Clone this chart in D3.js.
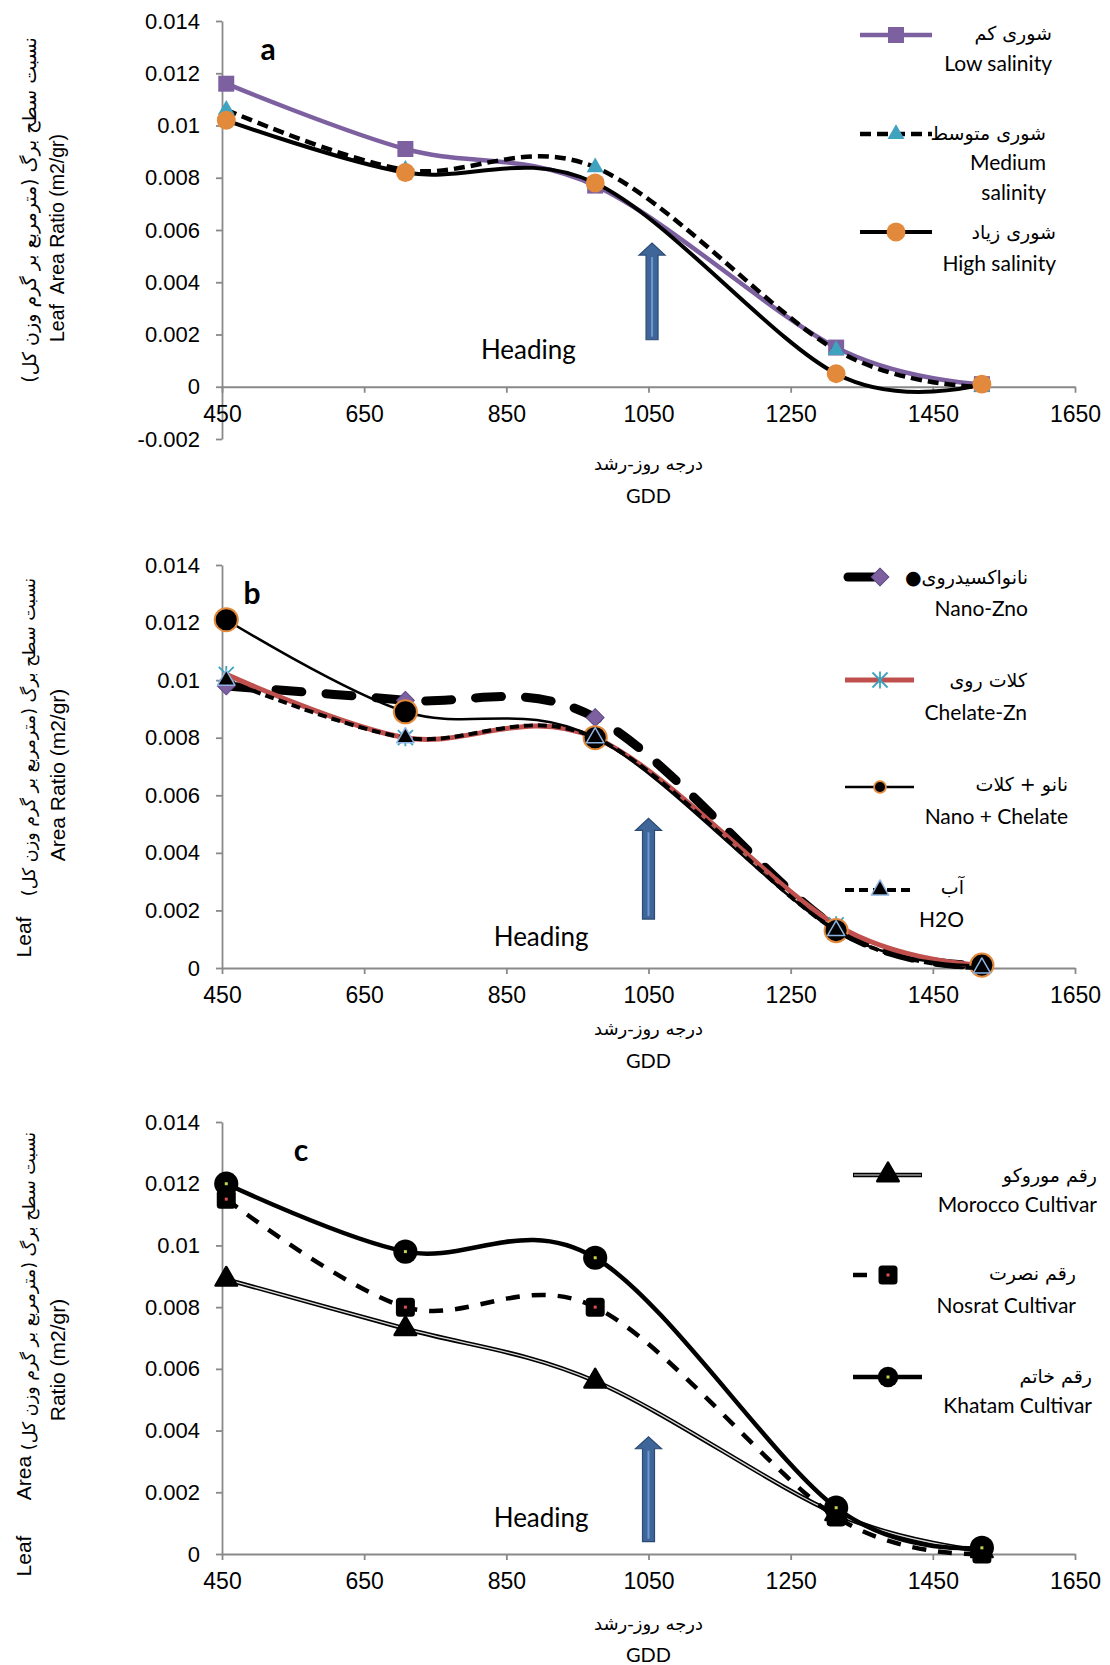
<!DOCTYPE html>
<html>
<head>
<meta charset="utf-8">
<script src="https://cdn.jsdelivr.net/npm/d3@7"></script>
<style>
body { margin: 0; background: #fff; }
</style>
</head>
<body>
<div id="chart"></div>
<script>
// growing degree days of the five samplings
var gdd = [456, 708, 975, 1314, 1519];
var xTicks = [450, 650, 850, 1050, 1250, 1450, 1650];
var yTicksA = [-0.002, 0, 0.002, 0.004, 0.006, 0.008, 0.01, 0.012, 0.014];
var yTicksBC = [0, 0.002, 0.004, 0.006, 0.008, 0.01, 0.012, 0.014];

// a : salinity
var lowSalinity = [0.0116, 0.0091, 0.0077, 0.0015, 0.0001];
var mediumSalinity = [0.0106, 0.0083, 0.0084, 0.0014, 0.0000];
var highSalinity = [0.0102, 0.0082, 0.0078, 0.0005, 0.0001];

// b : zinc
var nanoZno = [0.0098, 0.0093, 0.0087, 0.0014, 0.0001];
var chelateZn = [0.0102, 0.0080, 0.0080, 0.0015, 0.0001];
var nanoChelate = [0.0121, 0.0089, 0.0080, 0.0013, 0.0001];
var h2o = [0.0100, 0.0080, 0.0080, 0.0013, 0.0000];

// c : cultivars
var morocco = [0.0089, 0.0073, 0.0056, 0.0013, 0.0001];
var nosrat = [0.0115, 0.0080, 0.0080, 0.0012, 0.0000];
var khatam = [0.0120, 0.0098, 0.0096, 0.0015, 0.0002];

var faFont = "'DejaVu Sans', sans-serif";
var enFont = "Lato, 'Open Sans', sans-serif";
var numFont = "'Liberation Sans', Arial, sans-serif";
var axisColor = "#898989";

var width = 1110, height = 1665;

var svg = d3.select("#chart").append("svg")
	.attr("width", width)
	.attr("height", height)
	.style("background", "#fff");

var x = d3.scaleLinear().domain([450, 1650]).range([222, 1075]);

var panels = [
	{
		letter: "a", letterPos: [268, 48],
		domain: [-0.002, 0.014], range: [439, 21], yTicks: yTicksA,
		heading: [881, 0.00146], arrow: [1055, 0.0055, 0.0018],
		xTitle: [463, 495],
		yTitles: [
			{t: "نسبت سطح برگ (مترمربع بر گرم وزن کل)", x: 29, y: 210, f: faFont, s: 19},
			{t: "Leaf  Area Ratio (m2/gr)", x: 57, y: 238, f: numFont, s: 19.5}
		],
		series: [
			{v: lowSalinity, stroke: "#7D60A0", w: 4.5, m: {type: "square", size: 256, fill: "#7D60A0"},
				fa: "شوری کم", en: ["Low salinity"], ly: 35, lx: [860, 932], tx: 1052, ty: [33, 62]},
			{v: mediumSalinity, stroke: "#000", w: 4.5, dash: "11,6", m: {type: "triangle", size: 125, fill: "#3FA2BE"},
				fa: "شوری متوسط", en: ["Medium", "salinity"], ly: 134, lx: [860, 932], tx: 1046, ty: [133, 161, 191]},
			{v: highSalinity, stroke: "#000", w: 4, m: {type: "circle", size: 280, fill: "#E2893B"},
				fa: "شوری زیاد", en: ["High salinity"], ly: 232, lx: [860, 932], tx: 1056, ty: [232, 262]}
		]
	},
	{
		letter: "b", letterPos: [252, 592],
		domain: [0, 0.014], range: [968, 565], yTicks: yTicksBC,
		heading: [899, 0.0011], arrow: [1050, 0.0052, 0.0017],
		xTitle: [1028, 1060],
		yTitles: [
			{t: "نسبت سطح برگ (مترمربع بر گرم وزن کل)", x: 29, y: 737, f: faFont, s: 17.5},
			{t: "Area Ratio (m2/gr)", x: 57, y: 775, f: numFont, s: 21},
			{t: "Leaf", x: 23, y: 937, f: numFont, s: 21}
		],
		series: [
			{v: nanoZno, stroke: "#000", w: 9, dash: "26,24", cap: "round", m: {type: "diamond", size: 160, fill: "#7D60A0", stroke: "#5E4785", sw: 1},
				fa: "●نانواکسیدروی", en: ["Nano-Zno"], ly: 577, lx: [848, 885], mx: 880, tx: 1028, ty: [577, 607]},
			{v: chelateZn, stroke: "#C0504D", w: 5, m: {type: "asterisk", size: 7.5, stroke: "#3FA2BE", sw: 1.8},
				fa: "کلات روی", en: ["Chelate-Zn"], ly: 680, lx: [845, 914], mx: 880, tx: 1027, ty: [680, 711]},
			{v: nanoChelate, stroke: "#000", w: 2.5, m: {type: "circle", size: 420, fill: "#000", stroke: "#E2893B", sw: 2},
				lm: {type: "circle", size: 110, fill: "#000", stroke: "#E2893B", sw: 1.8},
				fa: "نانو + کلات", en: ["Nano + Chelate"], ly: 787, lx: [845, 914], mx: 880, tx: 1068, ty: [784, 815]},
			{v: h2o, stroke: "#000", w: 4, dash: "9,5", m: {type: "triangle", size: 130, fill: "#000", stroke: "#8EB4E3", sw: 1.5},
				fa: "آب", en: ["H2O"], ly: 890, lx: [845, 914], mx: 880, tx: 964, ty: [887, 918]}
		]
	},
	{
		letter: "c", letterPos: [301, 1149],
		domain: [0, 0.014], range: [1554, 1122], yTicks: yTicksBC,
		heading: [899, 0.0012], arrow: [1050, 0.0038, 0.0004],
		xTitle: [1623, 1654],
		yTitles: [
			{t: "نسبت سطح برگ (مترمربع بر گرم وزن کل)", x: 29, y: 1291, f: faFont, s: 17.5},
			{t: "Area", x: 23, y: 1478, f: numFont, s: 21},
			{t: "Ratio (m2/gr)", x: 57, y: 1360, f: numFont, s: 21},
			{t: "Leaf", x: 23, y: 1556, f: numFont, s: 21}
		],
		series: [
			{v: morocco, stroke: "#000", w: 4.5, inner: "#d8d8d8", m: {type: "triangle", size: 200, fill: "#000", stroke: "#000", sw: 2.5},
				fa: "رقم موروکو", en: ["Morocco Cultivar"], ly: 1175, lx: [853, 922], mx: 888, tx: 1097, ty: [1175, 1203]},
			{v: nosrat, stroke: "#000", w: 4.5, dash: "14,12", m: {type: "rsquare", size: 19, fill: "#000", dot: "#E0504D"},
				fa: "رقم نصرت", en: ["Nosrat Cultivar"], ly: 1275, lx: [853, 905], mx: 888, tx: 1076, ty: [1273, 1304]},
			{v: khatam, stroke: "#000", w: 4.5, m: {type: "circle", size: 460, fill: "#000", dot: "#C8D24A"},
				lm: {type: "circle", size: 330, fill: "#000", dot: "#C8D24A"},
				fa: "رقم خاتم", en: ["Khatam Cultivar"], ly: 1377, lx: [853, 922], mx: 888, tx: 1092, ty: [1376, 1404]}
		]
	}
];

function yFormat(d) {
	if (Math.abs(d) < 1e-9) return "0";
	return String(+d.toFixed(3));
}

function drawMarker(g, m, cx, cy) {
	var mg = g.append("g").attr("transform", "translate(" + cx + "," + cy + ")");
	if (m.type == "asterisk") {
		var r = m.size;
		mg.append("path")
			.attr("d", "M" + (-r) + "," + (-r) + "L" + r + "," + r + "M" + (-r) + "," + r + "L" + r + "," + (-r) + "M0," + (-r - 1) + "L0," + (r + 1))
			.style("fill", "none")
			.style("stroke", m.stroke)
			.style("stroke-width", m.sw);
	} else if (m.type == "rsquare") {
		mg.append("rect")
			.attr("x", -m.size / 2).attr("y", -m.size / 2)
			.attr("width", m.size).attr("height", m.size)
			.attr("rx", 3.5)
			.style("fill", m.fill);
	} else {
		var sym = {square: d3.symbolSquare, triangle: d3.symbolTriangle, circle: d3.symbolCircle, diamond: d3.symbolSquare}[m.type];
		mg.append("path")
			.attr("d", d3.symbol().type(sym).size(m.size)())
			.attr("transform", m.type == "diamond" ? "rotate(45)" : null)
			.style("fill", m.fill)
			.style("stroke", m.stroke || "none")
			.style("stroke-width", m.sw || 0)
			.style("stroke-linejoin", "round");
	}
	if (m.dot) {
		mg.append("rect").attr("x", -1.5).attr("y", -1.5).attr("width", 3).attr("height", 3).style("fill", m.dot);
	}
}

function styleLine(sel, s, widthOverride) {
	sel.style("fill", "none")
		.style("stroke", s.stroke)
		.style("stroke-width", widthOverride || s.w)
		.style("stroke-dasharray", s.dash || null)
		.style("stroke-linecap", s.cap || "butt")
		.style("stroke-linejoin", "round");
}

panels.forEach(function(p) {
	var y = d3.scaleLinear().domain(p.domain).range(p.range);
	var g = svg.append("g");

	// axes
	var yAxis = g.append("g")
		.attr("transform", "translate(" + x(450) + ",0)")
		.call(d3.axisLeft(y).tickValues(p.yTicks).tickSize(6).tickSizeOuter(0).tickPadding(16).tickFormat(yFormat));
	var xAxis = g.append("g")
		.attr("transform", "translate(0," + y(0) + ")")
		.call(d3.axisBottom(x).tickValues(xTicks).tickSize(6).tickSizeOuter(0).tickPadding(13).tickFormat(d3.format("d")));

	[yAxis, xAxis].forEach(function(a) {
		a.select(".domain").style("stroke", axisColor).style("stroke-width", 1.8);
		a.selectAll(".tick line").style("stroke", axisColor).style("stroke-width", 1.8);
		a.selectAll(".tick text").style("font-family", numFont).style("font-size", "22px").style("fill", "#000");
	});
	xAxis.selectAll(".tick text").style("font-size", "23px");

	// axis titles
	svg.append("text")
		.attr("x", x(1050)).attr("y", p.xTitle[0])
		.attr("text-anchor", "middle").attr("dominant-baseline", "central")
		.style("font-family", faFont).style("font-size", "18px")
		.text("درجه روز-رشد");
	svg.append("text")
		.attr("x", x(1050)).attr("y", p.xTitle[1])
		.attr("text-anchor", "middle").attr("dominant-baseline", "central")
		.style("font-family", enFont).style("font-size", "20px")
		.text("GDD");

	p.yTitles.forEach(function(t) {
		svg.append("text")
			.attr("transform", "translate(" + t.x + "," + t.y + ") rotate(-90)")
			.attr("text-anchor", "middle").attr("dominant-baseline", "central")
			.style("font-family", t.f).style("font-size", t.s + "px")
			.style("white-space", "pre")
			.text(t.t);
	});

	// panel letter
	svg.append("text")
		.attr("x", p.letterPos[0]).attr("y", p.letterPos[1])
		.attr("text-anchor", "middle").attr("dominant-baseline", "central")
		.style("font-family", enFont).style("font-weight", "bold").style("font-size", "30px")
		.text(p.letter);

	// heading annotation
	svg.append("text")
		.attr("x", x(p.heading[0])).attr("y", y(p.heading[1]))
		.attr("text-anchor", "middle").attr("dominant-baseline", "central")
		.style("font-family", enFont).style("font-size", "26px")
		.text("Heading");

	var ax = x(p.arrow[0]), aTop = y(p.arrow[1]), aBot = y(p.arrow[2]);
	svg.append("path")
		.attr("d", "M" + (ax - 6) + "," + aBot + "L" + (ax - 6) + "," + (aTop + 12) + "L" + (ax - 13) + "," + (aTop + 12)
			+ "L" + ax + "," + aTop + "L" + (ax + 13) + "," + (aTop + 12) + "L" + (ax + 6) + "," + (aTop + 12)
			+ "L" + (ax + 6) + "," + aBot + "Z")
		.style("fill", "#3F6699")
		.style("stroke", "#2C4B74")
		.style("stroke-width", 1.2);
	svg.append("line")
		.attr("x1", ax).attr("x2", ax).attr("y1", aTop + 14).attr("y2", aBot - 3)
		.style("stroke", "#6E98CF").style("stroke-width", 2);

	// series lines
	var line = d3.line()
		.x(function(d, i) { return x(gdd[i]); })
		.y(function(d) { return y(d); })
		.curve(d3.curveCardinal.tension(0));

	p.series.forEach(function(s) {
		styleLine(g.append("path").attr("d", line(s.v)), s);
		if (s.inner) {
			g.append("path").attr("d", line(s.v))
				.style("fill", "none").style("stroke", s.inner).style("stroke-width", 1.3);
		}
		s.v.forEach(function(d, i) { drawMarker(g, s.m, x(gdd[i]), y(d)); });
	});

	// legend
	p.series.forEach(function(s) {
		var lg = svg.append("g");
		styleLine(lg.append("line")
			.attr("x1", s.lx[0]).attr("x2", s.lx[1]).attr("y1", s.ly).attr("y2", s.ly), s);
		if (s.inner) {
			lg.append("line").attr("x1", s.lx[0] + 1).attr("x2", s.lx[1] - 1).attr("y1", s.ly).attr("y2", s.ly)
				.style("stroke", "#999").style("stroke-width", 1.3);
		}
		drawMarker(lg, s.lm || s.m, s.mx || (s.lx[0] + s.lx[1]) / 2, s.ly);
		lg.append("text")
			.attr("x", s.tx).attr("y", s.ty[0])
			.attr("text-anchor", "end").attr("dominant-baseline", "central")
			.style("font-family", faFont).style("font-size", "19px")
			.text(s.fa);
		s.en.forEach(function(t, i) {
			lg.append("text")
				.attr("x", s.tx).attr("y", s.ty[i + 1])
				.attr("text-anchor", "end").attr("dominant-baseline", "central")
				.style("font-family", enFont).style("font-size", "21px")
				.text(t);
		});
	});
});
</script>
</body>
</html>
